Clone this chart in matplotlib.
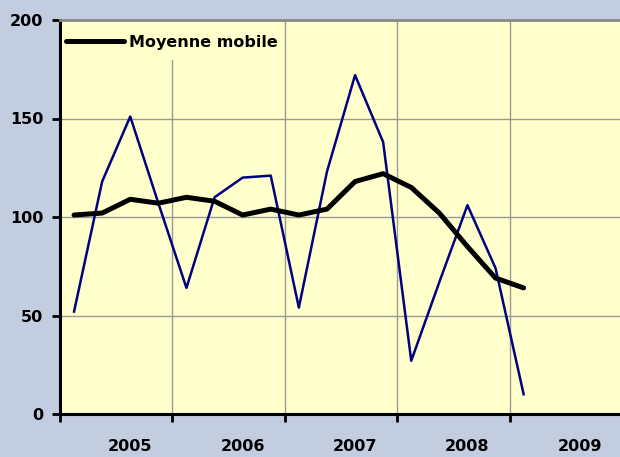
import matplotlib.pyplot as plt
import matplotlib.patches as mpatches
import numpy as np

# --- Daten ---
years = ['2005', '2006', '2007', '2008', '2009']
serie = [52, 118, 151, 107, 64, 110, 120, 121, 54, 123, 172, 138, 27, 67, 106, 74, 10]
moyenne_mobile = [101, 102, 109, 107, 110, 108, 101, 104, 101, 104, 118, 122, 115, 102, 85, 69, 64]

bg = '#C3CDE0'
plot_bg = '#FFFFCC'

fig = plt.figure(figsize=(6.2, 4.57), dpi=100, facecolor=bg)
ax = fig.add_axes([60 / 620, 43 / 457, 562 / 620, 394 / 457])
ax.set_facecolor(plot_bg)

x = np.arange(len(serie)) + 0.5
ax.plot(x, serie, color='#000080', linewidth=1.8, zorder=3)
ax.plot(x, moyenne_mobile, color='black', linewidth=3.6, solid_capstyle='round',
        label='Moyenne mobile', zorder=4)

ax.set_xlim(0, 4 * len(years))
ax.set_ylim(0, 200)

# Achsen / Ticks
ax.set_yticks([0, 50, 100, 150, 200])
ax.set_xticks(np.arange(0, 4 * len(years) + 1, 4))
ax.set_xticklabels([])
ax.set_xticks(np.arange(len(years)) * 4 + 2.5, minor=True)
ax.set_xticklabels(years, minor=True)
ax.tick_params(axis='x', which='minor', length=0, pad=18)
ax.tick_params(axis='x', which='major', length=6, width=2, direction='out')
ax.tick_params(axis='y', length=6, width=2, direction='out', pad=6)
for lab in ax.get_xticklabels(minor=True) + ax.get_yticklabels():
    lab.set_fontsize(11.5)
    lab.set_fontweight('bold')

ax.grid(True, which='major', color='#999999', linewidth=1.0)
ax.set_axisbelow(True)

for side in ['left', 'bottom']:
    ax.spines[side].set_linewidth(2.2)
    ax.spines[side].set_color('black')
ax.spines['top'].set_color('#888888')
ax.spines['top'].set_linewidth(2)
ax.spines['right'].set_visible(False)

# Legendenfeld (gelb, ohne Rahmen) verdeckt das Gitter
box = mpatches.Rectangle((2 / 562, 354 / 394), 221 / 562, 39 / 394, transform=ax.transAxes,
                         facecolor=plot_bg, edgecolor='none', zorder=2)
ax.add_patch(box)

leg = ax.legend(loc='center left', bbox_to_anchor=(0.0, 1 - 22 / 394), borderaxespad=0.0,
                handlelength=3.6, handletextpad=0.3, borderpad=0.4,
                prop={'weight': 'bold', 'size': 11.5}, frameon=False)

fig.savefig('out.png', dpi=100, facecolor=bg)
